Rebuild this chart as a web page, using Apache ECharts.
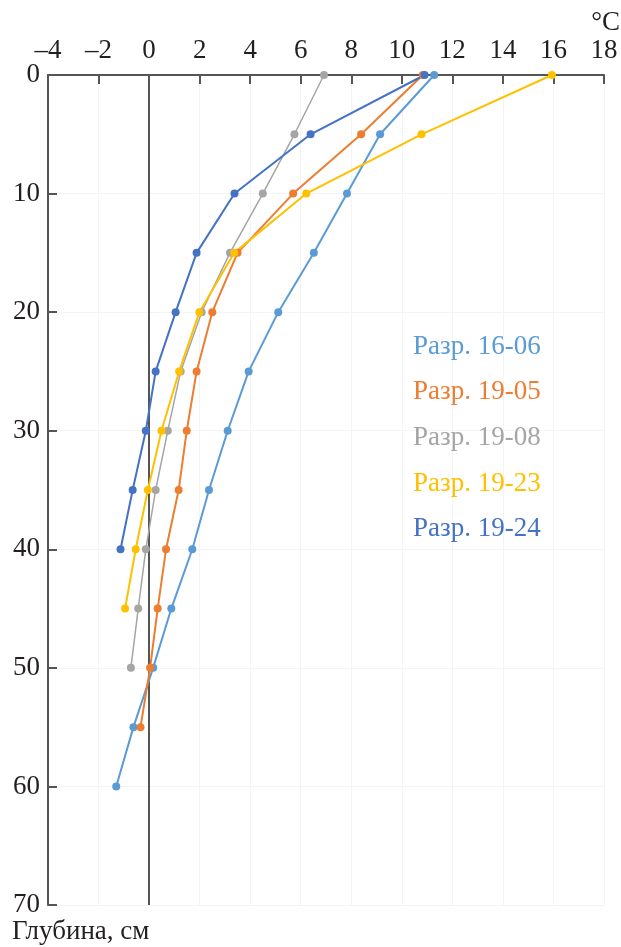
<!DOCTYPE html>
<html>
<head>
<meta charset="utf-8">
<script src="https://cdn.jsdelivr.net/npm/echarts@6/dist/echarts.min.js"></script>
<style>
  html, body { margin: 0; padding: 0; background: #fff; }
  #main { width: 621px; height: 947px; }
</style>
</head>
<body>
<div id="main"></div>
<script>
// глубина, см
const depths = [0, 5, 10, 15, 20, 25, 30, 35, 40, 45, 50, 55, 60];
const seriesNames = ['Разр. 16-06', 'Разр. 19-05', 'Разр. 19-08', 'Разр. 19-23', 'Разр. 19-24'];
const colors = ['#5b9bd5', '#ed7d31', '#a5a5a5', '#ffc000', '#4472c4'];
// температура, °C (по глубинам сверху вниз)
const t1606 = [11.28, 9.14, 7.83, 6.52, 5.11, 3.94, 3.11, 2.37, 1.71, 0.88, 0.16, -0.62, -1.30];
const t1905 = [10.83, 8.39, 5.70, 3.50, 2.50, 1.88, 1.49, 1.17, 0.67, 0.34, 0.04, -0.34];
const t1908 = [6.92, 5.75, 4.50, 3.20, 2.08, 1.25, 0.74, 0.26, -0.13, -0.43, -0.72];
const t1923 = [15.94, 10.78, 6.22, 3.37, 1.99, 1.19, 0.49, -0.05, -0.53, -0.95];
const t1924 = [10.90, 6.39, 3.38, 1.88, 1.05, 0.26, -0.13, -0.65, -1.13];
const temps = [t1606, t1905, t1908, t1923, t1924];

const font = 'Liberation Serif';
const txt = '#231f20';

var chart = echarts.init(document.getElementById('main'));

const series = temps.map((t, i) => {
    const s = {
        name: seriesNames[i],
        type: 'line',
        data: t.map((v, k) => [v, depths[k]]),
        symbol: 'circle',
        symbolSize: 8,
        color: colors[i],
        lineStyle: { width: i === 2 ? 1.5 : 2, color: colors[i] },
        itemStyle: { color: colors[i] },
        z: 3
    };
    if (i === 0) {
        // вертикальная линия 0 °C
        s.markLine = {
            silent: true,
            symbol: 'none',
            label: { show: false },
            lineStyle: { color: '#555', width: 2, type: 'solid' },
            data: [{ xAxis: 0 }],
            z: 1
        };
    }
    return s;
});

var option = {
    animation: false,
    backgroundColor: '#fff',
    grid: { left: 48, right: 17, top: 75, bottom: 42 },
    legend: {
        orient: 'vertical',
        left: 403,
        top: 328,
        icon: 'none',
        itemWidth: 0,
        itemHeight: 26,
        itemGap: 18.7,
        selectedMode: false,
        data: seriesNames.map((n, i) => ({ name: n, textStyle: { color: colors[i] } })),
        textStyle: { fontFamily: font, fontSize: 27, lineHeight: 26 }
    },
    xAxis: {
        type: 'value',
        position: 'top',
        min: -4,
        max: 18,
        interval: 2,
        axisLine: { show: true, onZero: false, lineStyle: { color: '#555', width: 2 } },
        axisTick: { show: true, inside: true, length: 9, lineStyle: { color: '#555', width: 2 } },
        axisLabel: {
            fontFamily: font, fontSize: 27, color: txt, margin: 11,
            formatter: v => String(v).replace('-', '\u2013')
        },
        splitLine: { show: true, lineStyle: { color: '#f4f4f4', width: 1 } }
    },
    yAxis: {
        type: 'value',
        inverse: true,
        min: 0,
        max: 70,
        interval: 10,
        axisLine: { show: true, onZero: false, lineStyle: { color: '#555', width: 2 } },
        axisTick: { show: true, inside: true, length: 9, lineStyle: { color: '#555', width: 2 } },
        axisLabel: { fontFamily: font, fontSize: 27, color: txt, margin: 8 },
        splitLine: { show: true, lineStyle: { color: '#f4f4f4', width: 1 } }
    },
    graphic: [
        { type: 'text', right: 1, top: 9, style: { text: '°C', font: '27px "Liberation Serif"', fill: txt } },
        { type: 'text', left: 12, top: 918, style: { text: 'Глубина, см', font: '27px "Liberation Serif"', fill: txt } }
    ],
    series: series
};
chart.setOption(option);
</script>
</body>
</html>
